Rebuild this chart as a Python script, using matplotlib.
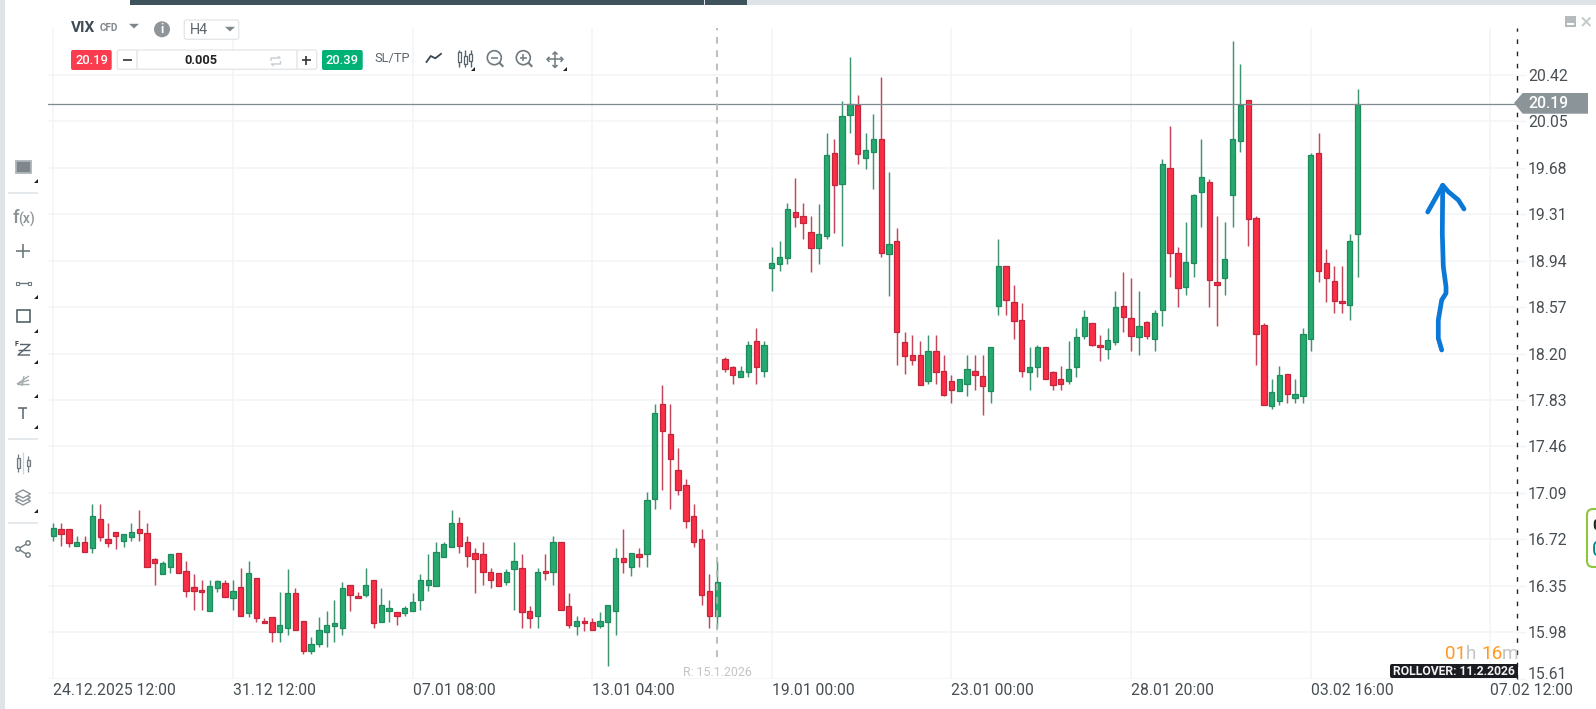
import matplotlib
matplotlib.use('Agg')
import matplotlib.pyplot as plt
from matplotlib.patches import Rectangle, FancyBboxPatch, Polygon, Circle
import numpy as np

plt.rcParams['font.family'] = ['Roboto', 'DejaVu Sans']

# 4h candles, oldest first
opens = [16.75, 16.80, 16.80, 16.67, 16.70, 16.65, 16.88, 16.72, 16.78, 16.71, 16.74, 16.80,
         16.77, 16.56, 16.44, 16.50, 16.61, 16.47, 16.34, 16.32, 16.15, 16.33, 16.37, 16.25,
         16.34, 16.13, 16.41, 16.07, 16.10, 15.98, 16.01, 16.29, 16.07, 15.83, 15.89, 15.98,
         16.03, 16.01, 16.36, 16.27, 16.28, 16.40, 16.06, 16.15, 16.14, 16.13, 16.15, 16.24,
         16.36, 16.35, 16.58, 16.66, 16.85, 16.70, 16.61, 16.60, 16.46, 16.45, 16.38, 16.48,
         16.49, 16.15, 16.11, 16.47, 16.46, 16.70, 16.19, 16.03, 16.07, 16.06, 16.03, 16.06,
         16.15, 16.57, 16.50, 16.60, 16.60, 17.04, 17.80, 17.56, 17.27, 17.15, 16.91, 16.72,
         16.31, 16.11, 18.16, 18.09, 18.01, 18.05, 18.30, 18.06, 18.88, 18.91, 18.96, 19.33,
         19.30, 19.17, 19.04, 19.14, 19.80, 19.55, 20.10, 20.18, 19.76, 19.81, 19.91, 18.99,
         19.10, 18.29, 18.19, 18.19, 17.98, 18.22, 18.06, 17.98, 17.90, 17.96, 18.06, 18.02,
         17.90, 18.58, 18.90, 18.61, 18.47, 18.05, 18.09, 18.25, 18.05, 18.00, 17.98, 18.09,
         18.34, 18.44, 18.27, 18.24, 18.29, 18.58, 18.48, 18.33, 18.45, 18.32, 18.55, 19.68,
         19.00, 18.73, 18.92, 19.49, 19.57, 18.77, 18.80, 19.46, 19.89, 20.22, 19.28, 18.43,
         17.78, 17.82, 18.04, 17.85, 17.86, 18.32, 19.80, 18.92, 18.78, 18.62, 18.59, 19.15]
highs = [16.85, 16.85, 16.80, 16.75, 16.75, 17.00, 17.00, 16.85, 16.78, 16.76, 16.85, 16.95,
         16.85, 16.57, 16.55, 16.60, 16.61, 16.55, 16.44, 16.40, 16.40, 16.40, 16.40, 16.40,
         16.49, 16.55, 16.41, 16.09, 16.10, 16.30, 16.48, 16.33, 16.07, 15.94, 16.10, 16.15,
         16.24, 16.38, 16.36, 16.30, 16.49, 16.40, 16.33, 16.24, 16.14, 16.19, 16.29, 16.44,
         16.60, 16.70, 16.70, 16.95, 16.90, 16.75, 16.65, 16.70, 16.49, 16.45, 16.48, 16.70,
         16.60, 16.19, 16.49, 16.60, 16.75, 16.70, 16.29, 16.11, 16.10, 16.09, 16.14, 16.20,
         16.65, 16.80, 16.61, 16.65, 17.10, 17.80, 17.95, 17.80, 17.45, 17.20, 17.00, 16.80,
         16.44, 16.55, 18.17, 18.10, 18.10, 18.30, 18.40, 18.30, 19.05, 19.10, 19.40, 19.60,
         19.40, 19.30, 19.39, 19.96, 19.91, 20.21, 20.56, 20.26, 19.96, 20.11, 20.40, 19.65,
         19.20, 18.37, 18.35, 18.30, 18.35, 18.35, 18.19, 18.03, 18.00, 18.19, 18.19, 18.19,
         18.25, 19.11, 18.90, 18.75, 18.60, 18.25, 18.27, 18.25, 18.06, 18.10, 18.30, 18.40,
         18.55, 18.44, 18.35, 18.40, 18.70, 18.85, 18.80, 18.70, 18.46, 18.55, 19.75, 20.01,
         19.05, 19.25, 19.47, 19.91, 19.59, 19.30, 19.25, 20.69, 20.51, 20.22, 19.30, 18.44,
         18.00, 18.10, 18.04, 18.00, 18.40, 19.80, 19.96, 19.03, 18.90, 18.90, 19.15, 20.31]
lows = [16.71, 16.67, 16.66, 16.67, 16.62, 16.61, 16.71, 16.66, 16.64, 16.66, 16.71, 16.71,
        16.50, 16.36, 16.44, 16.45, 16.45, 16.26, 16.16, 16.16, 16.15, 16.30, 16.26, 16.16,
        16.11, 16.10, 16.06, 16.05, 15.90, 15.90, 15.96, 16.00, 15.81, 15.81, 15.86, 15.86,
        15.90, 15.96, 16.15, 16.25, 16.26, 16.01, 16.06, 16.06, 16.04, 16.11, 16.15, 16.16,
        16.31, 16.35, 16.58, 16.66, 16.61, 16.50, 16.29, 16.36, 16.33, 16.35, 16.36, 16.16,
        16.01, 16.01, 16.01, 16.40, 16.36, 16.16, 16.01, 15.96, 15.99, 16.00, 16.01, 15.71,
        15.96, 16.45, 16.43, 16.50, 16.50, 16.96, 17.11, 16.96, 17.07, 16.81, 16.66, 16.20,
        16.01, 16.01, 18.05, 17.96, 18.01, 18.01, 17.96, 18.01, 18.70, 18.86, 18.91, 19.21,
        19.11, 18.85, 18.91, 19.11, 19.16, 19.06, 19.96, 19.71, 19.67, 19.51, 18.97, 18.66,
        18.11, 18.04, 18.11, 17.95, 17.96, 17.96, 17.86, 17.81, 17.90, 17.86, 17.91, 17.71,
        17.81, 18.51, 18.51, 18.32, 18.01, 17.91, 18.01, 18.00, 17.91, 17.91, 17.96, 18.01,
        18.32, 18.26, 18.14, 18.16, 18.27, 18.37, 18.22, 18.19, 18.32, 18.22, 18.42, 18.81,
        18.57, 18.67, 18.81, 19.21, 18.57, 18.42, 18.67, 19.21, 19.81, 19.06, 18.11, 17.79,
        17.76, 17.79, 17.81, 17.81, 17.81, 18.22, 18.77, 18.61, 18.52, 18.52, 18.47, 18.81]
closes = [16.81, 16.76, 16.69, 16.70, 16.62, 16.91, 16.74, 16.69, 16.75, 16.76, 16.78, 16.77,
          16.50, 16.53, 16.53, 16.60, 16.45, 16.31, 16.31, 16.30, 16.35, 16.39, 16.26, 16.31,
          16.11, 16.45, 16.09, 16.05, 15.98, 16.04, 16.29, 16.00, 15.83, 15.89, 16.00, 16.04,
          16.05, 16.33, 16.28, 16.25, 16.36, 16.05, 16.20, 16.17, 16.11, 16.17, 16.22, 16.40,
          16.40, 16.62, 16.68, 16.85, 16.67, 16.59, 16.56, 16.46, 16.40, 16.35, 16.46, 16.55,
          16.14, 16.09, 16.46, 16.45, 16.70, 16.16, 16.04, 16.07, 16.05, 16.00, 16.07, 16.20,
          16.57, 16.54, 16.61, 16.58, 17.03, 17.73, 17.58, 17.36, 17.11, 16.87, 16.70, 16.28,
          16.11, 16.38, 18.08, 18.03, 18.06, 18.27, 18.09, 18.27, 18.92, 18.97, 19.35, 19.29,
          19.24, 19.04, 19.15, 19.78, 19.54, 20.09, 20.19, 19.79, 19.82, 19.91, 19.00, 19.07,
          18.37, 18.18, 18.15, 17.95, 18.22, 18.05, 17.87, 17.91, 18.00, 18.08, 18.03, 17.94,
          18.25, 18.90, 18.63, 18.46, 18.06, 18.09, 18.25, 18.00, 17.95, 17.96, 18.08, 18.33,
          18.49, 18.27, 18.25, 18.31, 18.57, 18.49, 18.34, 18.42, 18.34, 18.52, 19.71, 19.00,
          18.72, 18.93, 19.46, 19.61, 18.79, 18.75, 18.95, 19.91, 20.18, 19.27, 18.36, 17.79,
          17.89, 18.03, 17.88, 17.88, 18.36, 19.78, 18.86, 18.80, 18.62, 18.60, 19.10, 20.19]

price_ticks = [15.61, 15.98, 16.35, 16.72, 17.09, 17.46, 17.83, 18.20, 18.57, 18.94,
               19.31, 19.68, 20.05, 20.42]
time_ticks = [0, 23, 46, 69, 92, 115, 138, 161, 184]
time_labels = ['24.12.2025 12:00', '31.12 12:00', '07.01 08:00', '13.01 04:00', '19.01 00:00',
               '23.01 00:00', '28.01 20:00', '03.02 16:00', '07.02 12:00']
bid = 20.19
ask = 20.39
rollover_candle = 85

UP = '#27a970'
UP_EDGE = '#1f8a5c'
UP_WICK = '#3f9470'
DOWN = '#fa2f45'
DOWN_EDGE = '#c2263d'
DOWN_WICK = '#c4465a'
GRID = '#f3f4f5'
TEXT = '#474f54'
ICON = '#6f7a80'
W, H = 1596, 709

fig = plt.figure(figsize=(W / 100, H / 100), dpi=100)

# price panel
ax = fig.add_axes([48 / W, 1 - 678.8 / H, (1517 - 48) / W, (678.8 - 28) / H])
o, h, l, c = map(np.array, (opens, highs, lows, closes))
x = np.arange(len(o))
up = c >= o
ax.vlines(x[up], l[up], h[up], color=UP_WICK, lw=1.05, zorder=2)
ax.vlines(x[~up], l[~up], h[~up], color=DOWN_WICK, lw=1.05, zorder=2)
ax.bar(x[up], (c - o)[up], bottom=o[up], width=0.68, color=UP, edgecolor=UP_EDGE, lw=0.9, zorder=3)
ax.bar(x[~up], (c - o)[~up], bottom=o[~up], width=0.68, color=DOWN, edgecolor=DOWN_EDGE, lw=0.9, zorder=3)

ax.set_xlim(-0.679, 187.41)
ax.set_ylim(15.609, 20.794)
for s in ax.spines.values():
    s.set_visible(False)
ax.yaxis.tick_right()
ax.set_yticks(price_ticks)
ax.set_yticklabels(['%.2f' % p for p in price_ticks])
ax.set_xticks(time_ticks)
ax.set_xticklabels(time_labels, ha='left')
ax.tick_params(axis='y', length=6.5, width=1, color=GRID, pad=1.5, labelsize=11.3, labelcolor=TEXT)
ax.tick_params(axis='x', length=0, pad=3, labelsize=11.3, labelcolor=TEXT)
ax.yaxis.get_ticklabels()[0].set_va('baseline')
ax.grid(True, color=GRID, lw=1.1)
ax.set_axisbelow(True)

# current price and rollover markers
ax.axhline(bid, color='#7f8a8e', lw=0.9, zorder=4)
ax.axvline(rollover_candle, ymin=(678.8 - 657) / (678.8 - 28), color='#b4b4b4', lw=1.5,
           ls=(0, (3.2, 3.2)), alpha=0.85, zorder=5)
ax.axvline(187.41, color='#222222', lw=1.0, ls=(0, (3.3, 5.5)), clip_on=False, zorder=5)

# everything around the chart is laid out in screen pixels on a second axes
ui = fig.add_axes([0, 0, 1, 1])
ui.set_xlim(0, W)
ui.set_ylim(H, 0)
ui.axis('off')


def box(x0, y0, x1, y1, fc='none', ec='none', lw=1, r=2):
    p = FancyBboxPatch((x0 + r, y0 + r), x1 - x0 - 2 * r, y1 - y0 - 2 * r,
                       boxstyle='round,pad=%g,rounding_size=%g' % (r, r), fc=fc, ec=ec, lw=lw,
                       clip_on=False)
    ui.add_patch(p)


def line(xs, ys, color=ICON, lw=1.1, **kw):
    ui.plot(xs, ys, color=color, lw=lw, solid_capstyle=kw.pop('cap', 'butt'), **kw)


def label(x, y, s, size=10, color=TEXT, ha='center', weight='normal'):
    ui.text(x, y, s, fontsize=size, color=color, ha=ha, va='center', fontweight=weight)


def tri(x, y, w=5, color='#7d868b'):
    ui.add_patch(Polygon([(x - w, y - 2.2), (x + w, y - 2.2), (x, y + 2.4)], fc=color, ec='none'))


def corner(x, y):
    ui.add_patch(Polygon([(x - 3, y + 1.5), (x + 1, y + 1.5), (x + 1, y - 2.5)], fc='#222222', ec='none'))


def magnifier(cx, cy, plus):
    ui.add_patch(Circle((cx, cy), 7, fc='white', ec=ICON, lw=1.2))
    line([cx + 5, cx + 9], [cy + 5, cy + 9], lw=1.5)
    line([cx - 3.5, cx + 3.5], [cy, cy], lw=1.1)
    if plus:
        line([cx, cx], [cy - 3.5, cy + 3.5], lw=1.1)


def candle_icon(cx, cy):
    for dx, top, bot in [(-6, 52, 61.7), (0, 56, 64), (5.7, 54, 60.7)]:
        line([cx + dx, cx + dx], [50, 66.7], color='#56636b', lw=1)
        ui.add_patch(Rectangle((cx + dx - 1.5, top), 3, bot - top, fc='white', ec='#56636b', lw=0.9, zorder=4))


# window frame
ui.add_patch(Rectangle((0, 0), 5, H, fc='#dde3e6', ec='none'))
ui.add_patch(Rectangle((130, 0), W - 130, 4.5, fc='#dde3e6', ec='none'))
ui.add_patch(Rectangle((130, 0), 574, 4.5, fc='#3e535c', ec='none'))
ui.add_patch(Rectangle((705, 0), 42, 4.5, fc='#3e535c', ec='none'))
ui.add_patch(Rectangle((1565, 16), 11, 11, fc='#b4babd', ec='none'))
ui.add_patch(Rectangle((1567, 22.5), 7, 2.2, fc='white', ec='none'))
line([1582, 1590.5], [17.5, 26], color='#c4cacc', lw=1.4)
line([1590.5, 1582], [17.5, 26], color='#c4cacc', lw=1.4)

# instrument header
label(71, 27.5, 'VIX', size=11.1, color='#3f4c55', ha='left', weight='bold')
label(99.7, 28.3, 'CFD', size=7.2, color='#80888d', ha='left', weight='bold')
tri(134, 26)
ui.add_patch(Circle((162, 29.3), 8, fc='#8f9598', ec='none'))
label(162, 29.3, 'i', size=9, color='white', weight='bold')
box(184.3, 20, 238.7, 39.3, fc='white', ec='#e4e7e9')
label(190.3, 30.3, 'H4', size=10.4, color='#5b656b', ha='left')
tri(230, 29)

# order ticket
box(71, 50, 111.7, 70, fc='#fa3c4e')
label(91.5, 60, '%.2f' % bid, size=9.3, color='white', weight='medium')
box(117.3, 50, 316.7, 69.3, fc='white', ec='#e4e7e9')
line([136.7, 136.7], [50, 69.3], color='#e4e7e9')
line([296.7, 296.7], [50, 69.3], color='#e4e7e9')
line([123.3, 132], [60, 60], color='#333333', lw=1.2)
line([301.7, 310.7], [60, 60], color='#333333', lw=1.2)
line([306.2, 306.2], [55.5, 64.5], color='#333333', lw=1.2)
label(200.7, 60.5, '0.005', size=9.2, color='#222222', weight='bold')
line([271, 271, 280, 278], [61, 58, 58, 56], color='#c9cdd0', lw=1)
line([280.5, 280.5, 271.5, 273.5], [61, 64, 64, 66], color='#c9cdd0', lw=1)
box(322, 50, 362.7, 70, fc='#00b176')
label(342.4, 60, '%.2f' % ask, size=9.3, color='white', weight='medium')
label(374, 58.5, 'SL/TP', size=9.3, color='#5b656b', ha='left')
line([426, 430.7, 435.3, 441.7], [62.7, 56, 58.3, 53.3], color='#3d474d', lw=1.3)
candle_icon(465, 58)
corner(474.3, 69.5)
magnifier(494.3, 57.7, False)
magnifier(523.3, 57.7, True)
line([547.3, 562.3], [59.3, 59.3], lw=1.1)
line([555, 555], [52.3, 67.3], lw=1.1)
line([552.5, 555, 557.5], [54.5, 52, 54.5], lw=1.1)
line([552.5, 555, 557.5], [65, 67.5, 65], lw=1.1)
line([549.5, 547, 549.5], [56.8, 59.3, 61.8], lw=1.1)
line([560.5, 563, 560.5], [56.8, 59.3, 61.8], lw=1.1)
corner(565.7, 69.5)

# drawing tools down the left edge
ui.add_patch(Rectangle((15.5, 160.5), 15, 12.5, fc='#7f878c', ec='#aeb5b9', lw=1.3))
line([8, 38], [193, 193], color='#dfe3e6')
label(13, 218, 'f', size=13.5, color='#8b9296', ha='left', weight='medium')
label(18, 219, '(x)', size=10, color='#8b9296', ha='left', weight='medium')
line([23, 23], [244, 258], lw=1.2)
line([16, 30], [251, 251], lw=1.2)
line([18, 28], [283, 283], lw=1)
ui.add_patch(Rectangle((15.5, 281.5), 3, 3, fc='white', ec=ICON, lw=0.8, zorder=4))
ui.add_patch(Rectangle((27.5, 281.5), 3, 3, fc='white', ec=ICON, lw=0.8, zorder=4))
ui.add_patch(Rectangle((16.5, 310), 13, 11.5, fc='white', ec='#56636b', lw=1.2))
line([20, 30, 18, 30], [344.5, 344.5, 355, 355], color='#56636b', lw=1)
line([18, 30], [349.5, 349.5], color='#56636b', lw=1)
label(16.5, 344.5, 'F', size=5, color='#333333', weight='bold')
line([17, 29], [384, 376], color='#a5acb0', lw=1)
line([17, 29], [384, 380], color='#a5acb0', lw=1)
line([17, 29], [384, 384], color='#a5acb0', lw=1)
line([24, 22], [376, 386], color='#a5acb0', lw=1)
line([18, 27], [408, 408], color='#56636b', lw=1.1)
line([22.5, 22.5], [408, 419], color='#56636b', lw=1.1)
line([8, 38], [439, 439], color='#dfe3e6')
ui.add_patch(Rectangle((16.5, 458), 3.5, 10, fc='#e8eaeb', ec=ICON, lw=0.9))
ui.add_patch(Rectangle((26.5, 460), 3.5, 6, fc='#e8eaeb', ec=ICON, lw=0.9))
line([18.2, 18.2], [454, 458], lw=0.9)
line([18.2, 18.2], [468, 472], lw=0.9)
line([28.2, 28.2], [456, 460], lw=0.9)
line([28.2, 28.2], [466, 472], lw=0.9)
line([23, 23], [452, 474], color='#cfd3d6', lw=0.9)
for dy in [7, 3.5, 0]:
    ui.add_patch(Polygon([(15.5, 494 + dy), (23, 490 + dy), (30.5, 494 + dy), (23, 498 + dy)],
                         fc='white', ec='#8b9296', lw=1))
line([8, 38], [523, 523], color='#dfe3e6')
line([28, 18, 28], [543, 549, 555], lw=1)
for sx, sy in [(28, 543), (18, 549), (28, 555)]:
    ui.add_patch(Circle((sx, sy), 2.2, fc='white', ec=ICON, lw=1, zorder=4))
for cy in [181.5, 297, 331, 362, 396, 427, 511]:
    corner(37, cy)

# price tag on the axis
ui.add_patch(Polygon([(1514, 103), (1522.7, 93), (1588, 93), (1588, 113.7), (1522.7, 113.7)],
                     fc='#8a9499', ec='none'))
label(1548, 103.5, '%.2f' % bid, size=11.3, color='white', weight='medium')

# hand drawn arrow
line([1441.7, 1438.3, 1438.3, 1441.7, 1446, 1446, 1443.3, 1442.3, 1442.7],
     [350, 338.3, 320, 300, 293.3, 286.7, 266.7, 233.3, 185.3],
     color='#0a78d7', lw=3.4, cap='round')
line([1427.7, 1442.7, 1448.3, 1458.3, 1464],
     [212, 185.3, 191.7, 200, 209],
     color='#0a78d7', lw=3.4, cap='round')

# candle countdown and rollover date
label(1445, 654, '01', size=13.6, color='#ff9a1f', ha='left')
label(1466, 654, 'h', size=13.6, color='#c4c4c4', ha='left')
label(1481.7, 654, '16', size=13.6, color='#ff9a1f', ha='left')
label(1502, 654, 'm', size=13.6, color='#c4c4c4', ha='left')
box(1390, 664, 1518, 678, fc='#1b1b22')
label(1454, 671.3, 'ROLLOVER: 11.2.2026', size=8.7, color='#f2f2f2', weight='bold')
label(717.5, 672, 'R: 15.1.2026', size=8.9, color='#c4c4c4')

# side badge running off the window
box(1587, 509, 1610, 567, fc='white', ec='#8cc63f', lw=1.5, r=6)
label(1592.5, 526, '0', size=11, color='#222222', ha='left', weight='bold')
label(1592, 551, '0', size=15, color='#00838f', ha='left')

fig.savefig('out.png', dpi=100)
